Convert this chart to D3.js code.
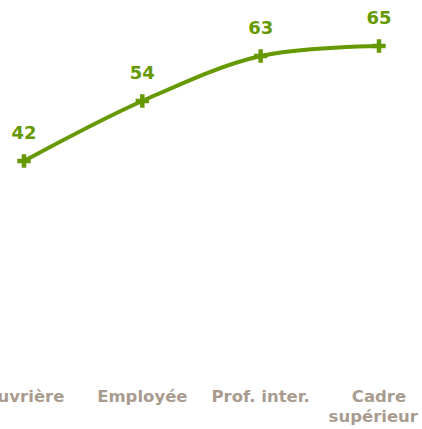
<!DOCTYPE html>
<html>
<head>
<meta charset="utf-8">
<script src="https://cdn.jsdelivr.net/npm/d3@7"></script>
<style>
  body { margin: 0; background: #fff; }
  svg { display: block; }
</style>
</head>
<body>
<svg width="422" height="429"></svg>
<script>
var categories = ["Ouvrière", "Employée", "Prof. inter.", "Cadre supérieur"];
var values = [42, 54, 63, 65];
var tickLines = [["Ouvrière"], ["Employée"], ["Prof. inter."], ["Cadre", "supérieur"]];

var svg = d3.select("svg"),
    width = +svg.attr("width"),
    height = +svg.attr("height");

var green = "#669900",
    grey = "#a99c8f";

var x = d3.scalePoint()
    .domain(categories)
    .range([24, 379]);

var y = d3.scaleLinear()
    .domain([0, 65])
    .range([371, 46]);

var line = d3.line()
    .x(function(d, i) { return x(categories[i]) })
    .y(function(d) { return y(d) })
    .curve(d3.curveCatmullRom.alpha(0.5));

svg.append("path")
    .datum(values)
    .attr("d", line)
    .attr("fill", "none")
    .attr("stroke", green)
    .attr("stroke-width", 4);

// markers
svg.selectAll(".mark")
  .data(values)
  .enter()
  .append("path")
    .attr("class", "mark")
    .attr("transform", function(d, i) { return "translate(" + x(categories[i]) + "," + y(d) + ")" })
    .attr("d", d3.symbol().type(d3.symbolCross).size(100))
    .attr("fill", green);

// value labels
svg.selectAll(".val")
  .data(values)
  .enter()
  .append("text")
    .attr("x", function(d, i) { return x(categories[i]) })
    .attr("y", function(d) { return y(d) - 22 })
    .attr("text-anchor", "middle")
    .style("font-family", "DejaVu Sans")
    .style("font-weight", "bold")
    .style("font-size", "18px")
    .style("fill", green)
    .text(function(d) { return d });

// category labels
var ticks = svg.selectAll(".tick")
  .data(categories)
  .enter()
  .append("text")
    .attr("x", function(d) { return x(d) })
    .attr("y", 402)
    .attr("text-anchor", "middle")
    .style("font-family", "DejaVu Sans")
    .style("font-weight", "bold")
    .style("font-size", "16.5px")
    .style("fill", grey);

ticks.each(function(d, i) {
  var t = d3.select(this);
  tickLines[i].forEach(function(s, j) {
    var ts = t.append("tspan")
      .attr("x", x(d))
      .attr("dy", j == 0 ? 0 : 20)
      .text(s);
    // keep wrapped lines inside the right edge
    if (j > 0) {
      var w = ts.node().getComputedTextLength();
      var cx = Math.min(x(d), width - 4 - w / 2);
      ts.attr("x", cx);
    }
  });
});
</script>
</body>
</html>
